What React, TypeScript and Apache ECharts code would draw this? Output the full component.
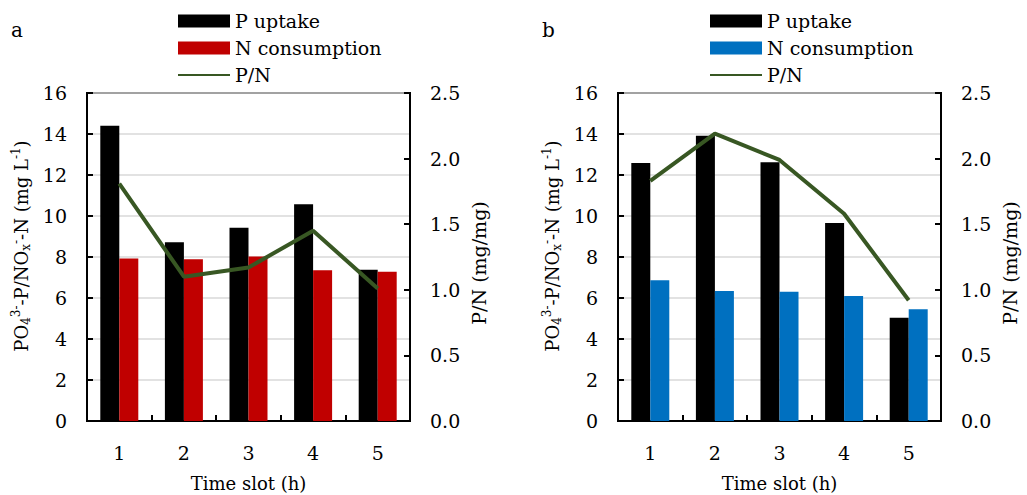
import { useEffect, useRef } from "react";
import * as echarts from "echarts";

// Time slots on the x axis
const slots = ["1", "2", "3", "4", "5"];

// Panel a
const pUptakeA = [14.4, 8.72, 9.43, 10.57, 7.38];
const nConsumptionA = [7.93, 7.89, 8.03, 7.35, 7.28];
const ratioA = [1.81, 1.1, 1.17, 1.45, 1.01];

// Panel b
const pUptakeB = [12.59, 13.92, 12.62, 9.66, 5.04];
const nConsumptionB = [6.86, 6.34, 6.31, 6.1, 5.45];
const ratioB = [1.83, 2.19, 1.99, 1.58, 0.92];

// Axis scales
const concAxis = { min: 0, max: 16, interval: 2 };
const ratioAxis = { min: 0, max: 2.5, interval: 0.5 };

const FONT = "DejaVu Serif";
const BLACK = "#000000";
const LINE_GREEN = "#385723";

type PanelProps = {
  letter: string;
  pUptake: number[];
  nConsumption: number[];
  ratio: number[];
  nColor: string;
  legendLeft: number;
};

function buildOption(p: PanelProps) {
  const gridLeft = 87;
  const gridTop = 93;
  const gridWidth = 323;
  const gridHeight = 328;
  const axisLine = { show: true, lineStyle: { color: BLACK, width: 2 } };
  const axisTick = { show: true, inside: true, length: 6, lineStyle: { color: BLACK, width: 2 } };
  const label = { fontSize: 19, color: BLACK, fontFamily: FONT, margin: 20 };

  return {
    animation: false,
    backgroundColor: "#ffffff",
    textStyle: { fontFamily: FONT },
    grid: {
      left: gridLeft,
      top: gridTop,
      width: gridWidth,
      height: gridHeight,
      show: true,
      borderColor: BLACK,
      borderWidth: 2,
    },
    legend: {
      orient: "vertical",
      left: p.legendLeft,
      top: 11,
      padding: 0,
      itemWidth: 52,
      itemHeight: 13,
      itemGap: 7,
      selectedMode: false,
      textStyle: { fontSize: 19, color: BLACK, fontFamily: FONT, lineHeight: 20 },
      data: [
        { name: "P uptake", icon: "rect" },
        { name: "N consumption", icon: "rect" },
        { name: "P/N", itemStyle: { opacity: 0 } },
      ],
    },
    xAxis: {
      type: "category",
      data: slots,
      axisLine,
      axisTick: { ...axisTick, interval: 0 },
      axisLabel: { ...label, margin: 22 },
      splitLine: { show: false },
    },
    yAxis: [
      {
        type: "value",
        ...concAxis,
        axisLine,
        axisTick,
        axisLabel: label,
        splitLine: { show: true, lineStyle: { color: "#d9d9d9", width: 1.5 } },
      },
      {
        type: "value",
        position: "right",
        ...ratioAxis,
        axisLine,
        axisTick,
        axisLabel: { ...label, formatter: (v: number) => v.toFixed(1) },
        splitLine: { show: false },
      },
    ],
    series: [
      {
        name: "P uptake",
        type: "bar",
        data: p.pUptake,
        barWidth: 19,
        barGap: "0%",
        itemStyle: { color: BLACK },
      },
      {
        name: "N consumption",
        type: "bar",
        data: p.nConsumption,
        barWidth: 19,
        barGap: "0%",
        itemStyle: { color: p.nColor },
      },
      {
        name: "P/N",
        type: "line",
        yAxisIndex: 1,
        data: p.ratio,
        symbol: "none",
        lineStyle: { color: LINE_GREEN, width: 4 },
        itemStyle: { color: LINE_GREEN },
        z: 5,
      },
    ],
    graphic: [
      {
        type: "text",
        x: 11,
        y: 30,
        style: { text: p.letter, fontSize: 20, fontFamily: FONT, fill: BLACK, verticalAlign: "middle" },
      },
      {
        type: "text",
        x: 21,
        y: 246,
        rotation: Math.PI / 2,
        style: {
          text: "{n|PO}{sb|4}{sp|3-}{n|-P/NO}{sb|x}{sp|-}{n|-N (mg L}{sp|-1}{n|)}",
          align: "center",
          verticalAlign: "middle",
          fill: BLACK,
          fontFamily: FONT,
          fontSize: 18,
          rich: {
            n: { fontSize: 18, fontFamily: FONT, lineHeight: 22, verticalAlign: "middle", fill: BLACK },
            sb: { fontSize: 12, fontFamily: FONT, lineHeight: 14, verticalAlign: "bottom", fill: BLACK },
            sp: { fontSize: 12, fontFamily: FONT, lineHeight: 14, verticalAlign: "top", fill: BLACK },
          },
        },
      },
      {
        type: "text",
        x: 479,
        y: 263,
        rotation: Math.PI / 2,
        style: {
          text: "P/N (mg/mg)",
          align: "center",
          verticalAlign: "middle",
          fill: BLACK,
          fontFamily: FONT,
          fontSize: 19,
        },
      },
      {
        type: "text",
        x: gridLeft + gridWidth / 2,
        y: 483,
        style: {
          text: "Time slot (h)",
          align: "center",
          verticalAlign: "middle",
          fill: BLACK,
          fontFamily: FONT,
          fontSize: 18,
        },
      },
    ],
  };
}

function Panel(props: PanelProps & { left: number }) {
  const ref = useRef<HTMLDivElement>(null);
  useEffect(() => {
    if (!ref.current) return;
    const chart = echarts.init(ref.current, undefined, { renderer: "svg" });
    chart.setOption(buildOption(props) as any);
    return () => chart.dispose();
  }, []);
  return (
    <div
      ref={ref}
      style={{ position: "absolute", left: props.left, top: 0, width: 514, height: 495 }}
    />
  );
}

export default function App() {
  useEffect(() => {
    document.body.style.margin = "0";
  }, []);
  return (
    <div style={{ position: "relative", width: 1027, height: 495, background: "#fff", overflow: "hidden" }}>
      <Panel
        left={0}
        letter="a"
        pUptake={pUptakeA}
        nConsumption={nConsumptionA}
        ratio={ratioA}
        nColor="#c00000"
        legendLeft={177}
      />
      <Panel
        left={531}
        letter="b"
        pUptake={pUptakeB}
        nConsumption={nConsumptionB}
        ratio={ratioB}
        nColor="#0070c0"
        legendLeft={178}
      />
    </div>
  );
}
